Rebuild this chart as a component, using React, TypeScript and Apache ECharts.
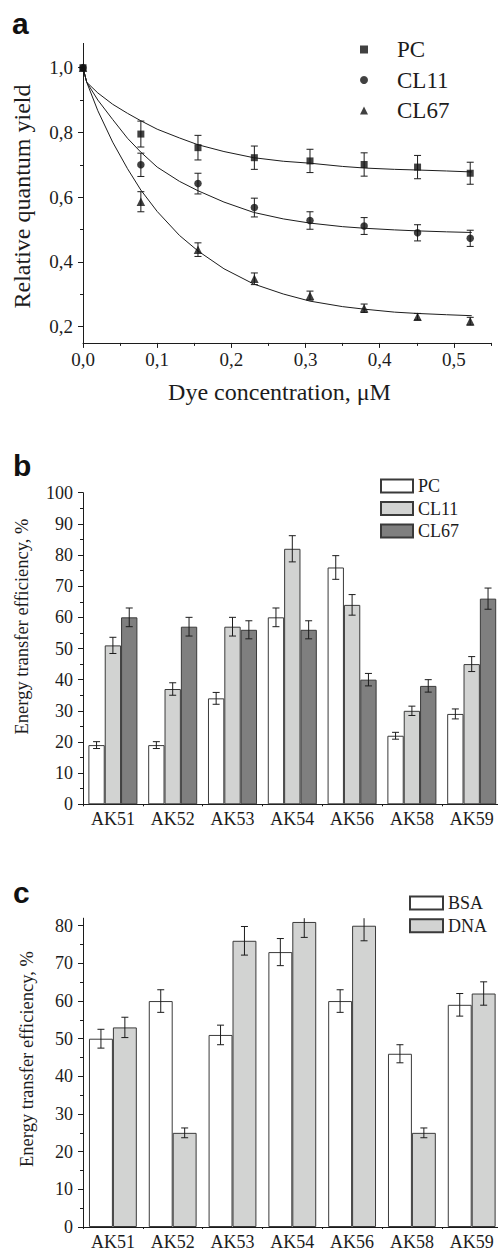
import React, { useEffect, useRef } from 'react';
import * as echarts from 'echarts';

// ---------- Panel a: relative quantum yield ----------
const concX = [0, 0.078, 0.155, 0.231, 0.306, 0.379, 0.451, 0.522];
const pcYield = [1.0, 0.795, 0.753, 0.722, 0.712, 0.701, 0.693, 0.674];
const pcErr = [0, 0.04, 0.038, 0.036, 0.036, 0.036, 0.036, 0.034];
const cl11Yield = [1.0, 0.7, 0.642, 0.568, 0.528, 0.511, 0.49, 0.473];
const cl11Err = [0, 0.036, 0.032, 0.029, 0.027, 0.026, 0.025, 0.025];
const cl67Yield = [1.0, 0.586, 0.438, 0.348, 0.296, 0.257, 0.231, 0.217];
const cl67Err = [0, 0.031, 0.021, 0.018, 0.014, 0.013, 0.01, 0.012];

// fitted curves
const fitX = [0, 0.005, 0.02, 0.04, 0.06, 0.078, 0.1, 0.13, 0.155, 0.19, 0.23, 0.27, 0.306, 0.35, 0.38, 0.42, 0.45, 0.49, 0.524];
const pcFit = [1.0, 0.955, 0.922, 0.887, 0.859, 0.836, 0.81, 0.783, 0.762, 0.741, 0.722, 0.711, 0.705, 0.695, 0.69, 0.686, 0.684, 0.681, 0.678];
const cl11Fit = [1.0, 0.955, 0.9, 0.84, 0.782, 0.739, 0.693, 0.649, 0.62, 0.585, 0.553, 0.533, 0.52, 0.509, 0.504, 0.499, 0.496, 0.493, 0.491];
const cl67Fit = [1.0, 0.955, 0.867, 0.77, 0.688, 0.622, 0.556, 0.482, 0.434, 0.379, 0.332, 0.301, 0.279, 0.262, 0.254, 0.245, 0.241, 0.237, 0.234];

const yieldXTicks = [0, 0.1, 0.2, 0.3, 0.4, 0.5];
const yieldXMinor = [0.05, 0.15, 0.25, 0.35, 0.45, 0.55];
const yieldYTicks = [0.2, 0.4, 0.6, 0.8, 1.0];
const yieldYMinor = [0.3, 0.5, 0.7, 0.9];

// ---------- Panel b: energy transfer efficiency ----------
const dyes = ['AK51', 'AK52', 'AK53', 'AK54', 'AK56', 'AK58', 'AK59'];
const effPC = [19, 19, 34, 60, 76, 22, 29];
const effPCErr = [1.1, 1.1, 1.9, 3, 3.8, 1.1, 1.6];
const effCL11 = [51, 37, 57, 82, 64, 30, 45];
const effCL11Err = [2.6, 2, 3, 4.2, 3.3, 1.5, 2.4];
const effCL67 = [60, 57, 56, 56, 40, 38, 66];
const effCL67Err = [3, 3, 2.9, 2.9, 2, 2, 3.4];

// ---------- Panel c: BSA vs DNA ----------
const effBSA = [50, 60, 51, 73, 60, 46, 59];
const effBSAErr = [2.5, 3, 2.6, 3.6, 3, 2.4, 3];
const effDNA = [53, 25, 76, 81, 80, 25, 62];
const effDNAErr = [2.7, 1.3, 3.8, 4.1, 4, 1.3, 3.1];
const effCTicks = [0, 10, 20, 30, 40, 50, 60, 70, 80];
const effCMinor = [5, 15, 25, 35, 45, 55, 65, 75];

const SERIF = "'Liberation Serif', 'Times New Roman', serif";
const SANS = "'Liberation Sans', Arial, sans-serif";
const INK = '#1c1c1c';
const BORDER = '#3a3a3a';

const comma = (v: number) => v.toFixed(1).replace('.', ',');

function xyErrorSeries(name: string, xs: number[], ys: number[], es: number[]) {
  return {
    name,
    type: 'custom',
    xAxisIndex: 0,
    yAxisIndex: 0,
    silent: true,
    z: 3,
    data: xs.map((x, i) => [x, ys[i], es[i]]),
    encode: { x: 0, y: 1 },
    renderItem: (params: any, api: any) => {
      const x = api.value(0);
      const y = api.value(1);
      const e = api.value(2);
      if (!e) return { type: 'group', children: [] };
      const top = api.coord([x, y + e]);
      const bot = api.coord([x, y - e]);
      const st = { stroke: INK, lineWidth: 1 };
      const h = 3.5;
      return {
        type: 'group',
        children: [
          { type: 'line', shape: { x1: top[0], y1: top[1], x2: bot[0], y2: bot[1] }, style: st },
          { type: 'line', shape: { x1: top[0] - h, y1: top[1], x2: top[0] + h, y2: top[1] }, style: st },
          { type: 'line', shape: { x1: bot[0] - h, y1: bot[1], x2: bot[0] + h, y2: bot[1] }, style: st },
        ],
      };
    },
  };
}

function barErrorSeries(name: string, axisIdx: number, vals: number[], errs: number[], k: number, n: number, gap: number) {
  return {
    name,
    type: 'custom',
    xAxisIndex: axisIdx,
    yAxisIndex: axisIdx,
    silent: true,
    z: 4,
    data: vals.map((v, i) => [i, v, errs[i]]),
    encode: { x: 0, y: 1 },
    renderItem: (params: any, api: any) => {
      const i = api.value(0);
      const v = api.value(1);
      const e = api.value(2);
      const band = api.size([1, 0])[0];
      const group = band * (1 - gap);
      const bw = group / n;
      const cx = api.coord([i, v])[0] - group / 2 + bw * (k + 0.5);
      let yTop = api.coord([i, v + e])[1];
      const yBot = api.coord([i, v - e])[1];
      const cs = params.coordSys;
      const clipped = yTop < cs.y;
      if (clipped) yTop = cs.y;
      const st = { stroke: INK, lineWidth: 1 };
      const h = 3.5;
      const children: any[] = [
        { type: 'line', shape: { x1: cx, y1: yTop, x2: cx, y2: yBot }, style: st },
        { type: 'line', shape: { x1: cx - h, y1: yBot, x2: cx + h, y2: yBot }, style: st },
      ];
      if (!clipped) children.push({ type: 'line', shape: { x1: cx - h, y1: yTop, x2: cx + h, y2: yTop }, style: st });
      return { type: 'group', children };
    },
  };
}

const axisLineStyle = { color: INK, width: 1 };

function buildOption() {
  const catAxis = (gridIndex: number) => ({
    gridIndex,
    type: 'category',
    position: 'bottom',
    data: dyes,
    axisLine: { show: true, onZero: false, lineStyle: axisLineStyle },
    axisTick: { show: true, length: 2, alignWithLabel: false, lineStyle: axisLineStyle },
    axisLabel: { fontFamily: SERIF, fontSize: 18, color: INK, margin: 6 },
    splitLine: { show: false },
  });

  return {
    animation: false,
    backgroundColor: '#ffffff',
    grid: [
      { left: 83, top: 43.4, width: 408, height: 299.5 },
      { left: 83, top: 492.7, width: 418.6, height: 311.6 },
      { left: 83, top: 918.2, width: 418.6, height: 311.8 },
    ],
    xAxis: [
      {
        gridIndex: 0,
        type: 'value',
        position: 'bottom',
        min: 0,
        max: 0.55,
        axisLine: { show: true, onZero: false, lineStyle: axisLineStyle },
        axisTick: { show: true, length: 5, customValues: yieldXTicks, lineStyle: axisLineStyle },
        axisLabel: { customValues: yieldXTicks, formatter: comma, fontFamily: SERIF, fontSize: 19, color: INK, margin: 7 },
        splitLine: { show: false },
      },
      {
        gridIndex: 0,
        type: 'value',
        position: 'bottom',
        min: 0,
        max: 0.55,
        axisLine: { show: false, onZero: false },
        axisTick: { show: true, length: 3, customValues: yieldXMinor, lineStyle: axisLineStyle },
        axisLabel: { show: false },
        splitLine: { show: false },
      },
      catAxis(1),
      catAxis(2),
    ],
    yAxis: [
      {
        gridIndex: 0,
        type: 'value',
        position: 'left',
        min: 0.15,
        max: 1.075,
        axisLine: { show: true, onZero: false, lineStyle: axisLineStyle },
        axisTick: { show: true, length: 5, customValues: yieldYTicks, lineStyle: axisLineStyle },
        axisLabel: { customValues: yieldYTicks, formatter: comma, fontFamily: SERIF, fontSize: 19, color: INK, margin: 10 },
        splitLine: { show: false },
      },
      {
        gridIndex: 0,
        type: 'value',
        position: 'left',
        min: 0.15,
        max: 1.075,
        axisLine: { show: false, onZero: false },
        axisTick: { show: true, length: 3, customValues: yieldYMinor, lineStyle: axisLineStyle },
        axisLabel: { show: false },
        splitLine: { show: false },
      },
      {
        gridIndex: 1,
        type: 'value',
        position: 'left',
        min: 0,
        max: 100,
        interval: 10,
        axisLine: { show: true, onZero: false, lineStyle: axisLineStyle },
        axisTick: { show: true, length: 5, lineStyle: axisLineStyle },
        minorTick: { show: true, splitNumber: 2, length: 3, lineStyle: axisLineStyle },
        axisLabel: { fontFamily: SERIF, fontSize: 18, color: INK, margin: 10 },
        splitLine: { show: false },
        minorSplitLine: { show: false },
      },
      {
        gridIndex: 2,
        type: 'value',
        position: 'left',
        min: 0,
        max: 82,
        axisLine: { show: true, onZero: false, lineStyle: axisLineStyle },
        axisTick: { show: true, length: 5, customValues: effCTicks, lineStyle: axisLineStyle },
        axisLabel: { customValues: effCTicks, fontFamily: SERIF, fontSize: 18, color: INK, margin: 10 },
        splitLine: { show: false },
      },
      {
        gridIndex: 2,
        type: 'value',
        position: 'left',
        min: 0,
        max: 82,
        axisLine: { show: false, onZero: false },
        axisTick: { show: true, length: 3, customValues: effCMinor, lineStyle: axisLineStyle },
        axisLabel: { show: false },
        splitLine: { show: false },
      },
    ],
    legend: [
      {
        orient: 'vertical',
        left: 360,
        top: 38,
        padding: 0,
        itemWidth: 8,
        itemHeight: 8,
        itemGap: 7.5,
        selectedMode: false,
        formatter: (n: string) => n.split(':')[1],
        textStyle: { fontFamily: SERIF, fontSize: 23, color: INK, padding: [0, 0, 0, 24] },
        data: [
          { name: 'a:PC', icon: 'rect' },
          { name: 'a:CL11', icon: 'circle' },
          { name: 'a:CL67', icon: 'triangle' },
        ],
      },
      {
        orient: 'vertical',
        left: 380,
        top: 477,
        padding: 0,
        itemWidth: 32,
        itemHeight: 13,
        itemGap: 4.5,
        icon: 'rect',
        selectedMode: false,
        formatter: (n: string) => n.split(':')[1],
        textStyle: { fontFamily: SERIF, fontSize: 18, color: INK },
        data: ['b:PC', 'b:CL11', 'b:CL67'],
      },
      {
        orient: 'vertical',
        left: 409,
        top: 894,
        padding: 0,
        itemWidth: 33,
        itemHeight: 13,
        itemGap: 4.7,
        icon: 'rect',
        selectedMode: false,
        formatter: (n: string) => n.split(':')[1],
        textStyle: { fontFamily: SERIF, fontSize: 18, color: INK },
        data: ['c:BSA', 'c:DNA'],
      },
    ],
    graphic: [
      { type: 'text', x: 12, y: 23, style: { text: 'a', font: `bold 30px ${SANS}`, fill: '#111', align: 'left', verticalAlign: 'middle' } },
      { type: 'text', x: 13, y: 465, style: { text: 'b', font: `bold 30px ${SANS}`, fill: '#111', align: 'left', verticalAlign: 'middle' } },
      { type: 'text', x: 13, y: 892, style: { text: 'c', font: `bold 30px ${SANS}`, fill: '#111', align: 'left', verticalAlign: 'middle' } },
      { type: 'text', x: 21.5, y: 196.5, rotation: Math.PI / 2, style: { text: 'Relative quantum yield', font: `24px ${SERIF}`, fill: INK, align: 'center', verticalAlign: 'middle' } },
      { type: 'text', x: 279.5, y: 392, style: { text: 'Dye concentration, μM', font: `24px ${SERIF}`, fill: INK, align: 'center', verticalAlign: 'middle' } },
      { type: 'text', x: 21.5, y: 626.5, rotation: Math.PI / 2, style: { text: 'Energy transfer efficiency, %', font: `18.5px ${SERIF}`, fill: INK, align: 'center', verticalAlign: 'middle' } },
      { type: 'text', x: 26.5, y: 1059, rotation: Math.PI / 2, style: { text: 'Energy transfer efficiency, %', font: `18.5px ${SERIF}`, fill: INK, align: 'center', verticalAlign: 'middle' } },
    ],
    series: [
      // panel a fits
      ...[
        ['a:PC fit', pcFit],
        ['a:CL11 fit', cl11Fit],
        ['a:CL67 fit', cl67Fit],
      ].map(([name, ys]: any) => ({
        name,
        type: 'line',
        xAxisIndex: 0,
        yAxisIndex: 0,
        data: fitX.map((x, i) => [x, ys[i]]),
        showSymbol: false,
        symbol: 'none',
        smooth: false,
        silent: true,
        z: 1,
        lineStyle: { color: INK, width: 1 },
      })),
      xyErrorSeries('a:PC err', concX, pcYield, pcErr),
      xyErrorSeries('a:CL11 err', concX, cl11Yield, cl11Err),
      xyErrorSeries('a:CL67 err', concX, cl67Yield, cl67Err),
      {
        name: 'a:PC', type: 'scatter', xAxisIndex: 0, yAxisIndex: 0, symbol: 'rect', symbolSize: 7, z: 5,
        itemStyle: { color: '#111' }, data: concX.map((x, i) => [x, pcYield[i]]),
      },
      {
        name: 'a:CL11', type: 'scatter', xAxisIndex: 0, yAxisIndex: 0, symbol: 'circle', symbolSize: 7.5, z: 5,
        itemStyle: { color: '#111' }, data: concX.map((x, i) => [x, cl11Yield[i]]),
      },
      {
        name: 'a:CL67', type: 'scatter', xAxisIndex: 0, yAxisIndex: 0, symbol: 'triangle', symbolSize: 8.5, z: 5,
        itemStyle: { color: '#111' }, data: concX.map((x, i) => [x, cl67Yield[i]]),
      },
      // panel b
      {
        name: 'b:PC', type: 'bar', xAxisIndex: 2, yAxisIndex: 2, barGap: '0%', barCategoryGap: '18%',
        itemStyle: { color: '#ffffff', borderColor: BORDER, borderWidth: 1 }, data: effPC,
      },
      {
        name: 'b:CL11', type: 'bar', xAxisIndex: 2, yAxisIndex: 2, barGap: '0%', barCategoryGap: '18%',
        itemStyle: { color: '#d2d3d2', borderColor: BORDER, borderWidth: 1 }, data: effCL11,
      },
      {
        name: 'b:CL67', type: 'bar', xAxisIndex: 2, yAxisIndex: 2, barGap: '0%', barCategoryGap: '18%',
        itemStyle: { color: '#7f7f7f', borderColor: BORDER, borderWidth: 1 }, data: effCL67,
      },
      barErrorSeries('b:PC err', 2, effPC, effPCErr, 0, 3, 0.18),
      barErrorSeries('b:CL11 err', 2, effCL11, effCL11Err, 1, 3, 0.18),
      barErrorSeries('b:CL67 err', 2, effCL67, effCL67Err, 2, 3, 0.18),
      // panel c
      {
        name: 'c:BSA', type: 'bar', xAxisIndex: 3, yAxisIndex: 3, barGap: '0%', barCategoryGap: '20%',
        itemStyle: { color: '#ffffff', borderColor: BORDER, borderWidth: 1 }, data: effBSA,
      },
      {
        name: 'c:DNA', type: 'bar', xAxisIndex: 3, yAxisIndex: 3, barGap: '0%', barCategoryGap: '20%',
        itemStyle: { color: '#d2d3d2', borderColor: BORDER, borderWidth: 1 }, data: effDNA,
      },
      barErrorSeries('c:BSA err', 3, effBSA, effBSAErr, 0, 2, 0.2),
      barErrorSeries('c:DNA err', 3, effDNA, effDNAErr, 1, 2, 0.2),
    ],
  };
}

export default function App() {
  const ref = useRef<HTMLDivElement>(null);
  useEffect(() => {
    if (!ref.current) return;
    const chart = echarts.init(ref.current, undefined, { renderer: 'svg' });
    chart.setOption(buildOption() as any);
    return () => chart.dispose();
  }, []);
  return (
    <div style={{ position: 'absolute', left: 0, top: 0, width: 498, height: 1251, overflow: 'hidden', background: '#fff' }}>
      <div ref={ref} style={{ width: 510, height: 1251 }} />
    </div>
  );
}
